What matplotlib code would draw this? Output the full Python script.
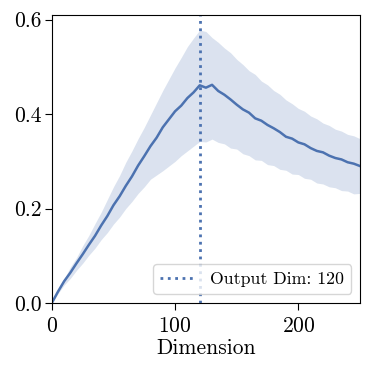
import numpy as np
import matplotlib
matplotlib.use("Agg")
import matplotlib.pyplot as plt

plt.rcParams["font.family"] = "serif"
plt.rcParams["font.serif"] = ["cmr10"]
plt.rcParams["mathtext.fontset"] = "cm"
plt.rcParams["axes.formatter.use_mathtext"] = True
plt.rcParams["font.size"] = 15.5

# dimension grid (every 5)
dims = list(range(0, 251, 5))

# mean curve
mean_vals = [0.000, 0.024, 0.046, 0.064, 0.084, 0.103, 0.123, 0.142, 0.164, 0.184,
             0.207, 0.226, 0.248, 0.268, 0.291, 0.311, 0.332, 0.350, 0.372, 0.389,
             0.406, 0.418, 0.434, 0.446, 0.461, 0.456, 0.462, 0.449, 0.441, 0.431,
             0.420, 0.410, 0.403, 0.391, 0.386, 0.377, 0.370, 0.362, 0.352, 0.348,
             0.340, 0.336, 0.328, 0.322, 0.319, 0.312, 0.307, 0.304, 0.298, 0.295,
             0.290]

# upper edge of shaded band
upper_vals = [0.000, 0.028, 0.051, 0.076, 0.096, 0.121, 0.143, 0.168, 0.192, 0.219,
              0.246, 0.270, 0.298, 0.322, 0.348, 0.372, 0.398, 0.424, 0.450, 0.474,
              0.498, 0.520, 0.543, 0.561, 0.578, 0.575, 0.562, 0.552, 0.540, 0.530,
              0.516, 0.505, 0.492, 0.484, 0.470, 0.462, 0.450, 0.442, 0.430, 0.422,
              0.412, 0.406, 0.396, 0.390, 0.381, 0.376, 0.368, 0.364, 0.357, 0.354,
              0.348]

# lower edge of shaded band
lower_vals = [0.000, 0.020, 0.038, 0.052, 0.069, 0.084, 0.101, 0.116, 0.134, 0.149,
              0.167, 0.182, 0.200, 0.215, 0.232, 0.246, 0.262, 0.271, 0.280, 0.290,
              0.300, 0.312, 0.322, 0.332, 0.342, 0.341, 0.347, 0.340, 0.337, 0.328,
              0.326, 0.316, 0.312, 0.303, 0.302, 0.293, 0.291, 0.283, 0.281, 0.273,
              0.272, 0.264, 0.262, 0.254, 0.252, 0.246, 0.244, 0.238, 0.237, 0.231,
              0.232]

output_dim = 120
color = "#4C72B0"

fig = plt.figure(figsize=(3.73, 3.74), dpi=100)
ax = fig.add_axes([0.139, 0.190, 0.826, 0.770])

ax.fill_between(dims, lower_vals, upper_vals, color=color, alpha=0.2, linewidth=0)
ax.plot(dims, mean_vals, color=color, linewidth=1.8)
ax.axvline(output_dim, color=color, linestyle=":", linewidth=2,
           label=f"Output Dim: {output_dim}")

ax.set_xlim(0, 250)
ax.set_ylim(0, 0.61)
ax.set_xticks([0, 100, 200])
ax.set_yticks([0.0, 0.2, 0.4, 0.6])
ax.set_yticklabels(["0.0", "0.2", "0.4", "0.6"])
ax.tick_params(axis="both", length=5)
ax.tick_params(axis="x", pad=4.5)
ax.tick_params(axis="y", pad=2.5)
ax.set_xlabel("Dimension", labelpad=2)
ax.legend(loc="lower right", fontsize=12.8)

fig.savefig("out.png", dpi=100)
